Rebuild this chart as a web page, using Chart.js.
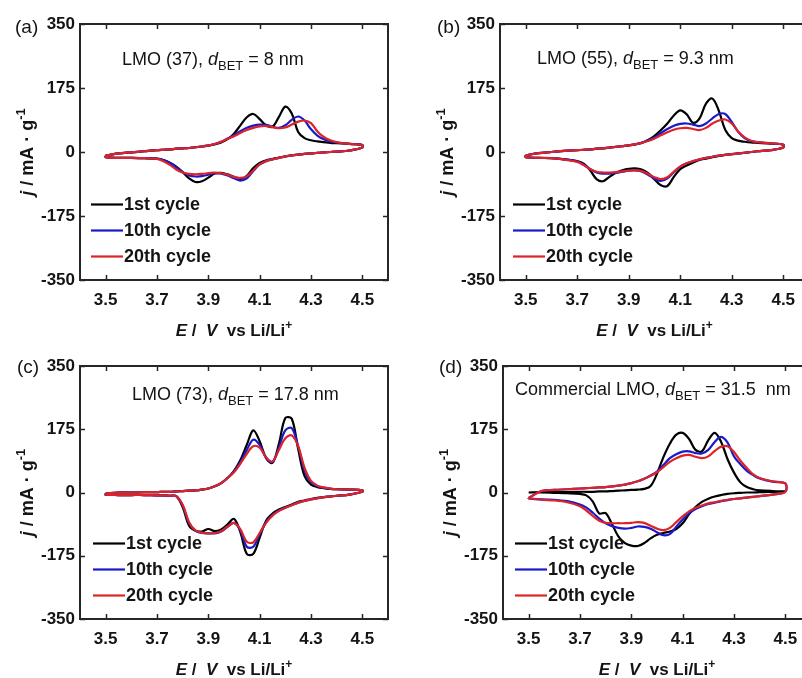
<!DOCTYPE html>
<html>
<head>
<meta charset="utf-8">
<script src="https://cdn.jsdelivr.net/npm/chart.js@4.4.1/dist/chart.umd.min.js"></script>
<style>
  html, body { margin: 0; padding: 0; background: #ffffff; width: 802px; height: 678px; overflow: hidden; }
  canvas { position: absolute; }
</style>
</head>
<body>
<canvas id="panelA" width="400" height="345" style="left:0;top:0"></canvas>
<canvas id="panelB" width="420" height="345" style="left:400px;top:0"></canvas>
<canvas id="panelC" width="400" height="348" style="left:0;top:330px"></canvas>
<canvas id="panelD" width="420" height="348" style="left:400px;top:330px"></canvas>
<script>
// Potential grid (V vs Li/Li+) shared by every sweep; anodic and cathodic currents are listed on it.
const POTENTIAL = [3.5, 3.55, 3.6, 3.65, 3.7, 3.725, 3.75, 3.775, 3.8, 3.825, 3.85, 3.875, 3.9, 3.925, 3.95, 3.975,
  4.0, 4.025, 4.05, 4.075, 4.1, 4.125, 4.15, 4.175, 4.2, 4.225, 4.25, 4.275, 4.3, 4.325, 4.35, 4.375, 4.4, 4.45, 4.5];

const POTENTIAL_TICKS = [3.5, 3.7, 3.9, 4.1, 4.3, 4.5];
const CURRENT_TICKS = [-350, -175, 0, 175, 350];
const CYCLE_LABELS = ['1st cycle', '10th cycle', '20th cycle'];

// (a) LMO (37): current density in mA/g, anodic sweep (UP) and cathodic sweep (DOWN)
const A1_UP    = [-10, -4, -1, 2, 5, 6, 7, 9, 10, 11, 13, 15, 17, 21, 26, 35, 50, 73, 95, 104, 90, 73, 69, 96, 124, 105, 55, 38, 32, 29, 27, 25, 24, 22, 19];
const A1_DOWN  = [-14, -16, -16, -17, -18, -22, -29, -40, -55, -72, -82, -80, -70, -59, -57, -61, -68, -74, -65, -44, -30, -23, -19, -15, -12, -9, -7, -5, -4, -2, -1, 0, 1, 4, 12];
const A10_UP   = [-10, -4, -1, 2, 5, 6, 7, 9, 10, 11, 13, 15, 18, 22, 28, 37, 46, 57, 66, 72, 75, 74, 69, 66, 73, 88, 97, 86, 62, 45, 35, 29, 26, 22, 19];
const A10_DOWN = [-14, -16, -16, -17, -18, -22, -30, -42, -55, -64, -67, -66, -62, -58, -59, -64, -72, -78, -72, -52, -34, -25, -20, -16, -12, -9, -7, -5, -4, -2, -1, 0, 1, 4, 12];
const A20_UP   = [-10, -4, -1, 2, 5, 6, 7, 9, 10, 11, 13, 15, 18, 22, 28, 36, 43, 52, 60, 66, 70, 71, 68, 65, 67, 75, 83, 86, 79, 56, 41, 32, 27, 22, 19];
const A20_DOWN = [-14, -16, -16, -17, -19, -25, -35, -48, -56, -60, -61, -60, -58, -56, -58, -62, -68, -71, -66, -50, -34, -25, -20, -16, -12, -9, -7, -5, -4, -2, -1, 0, 1, 4, 12];

// (b) LMO (55)
const B1_UP    = [-9, -3, 0, 3, 5, 6, 7, 9, 10, 12, 14, 16, 18, 21, 25, 33, 44, 60, 78, 100, 114, 103, 80, 92, 132, 146, 112, 60, 38, 31, 28, 26, 25, 23, 20];
const B1_DOWN  = [-14, -16, -17, -20, -25, -32, -50, -74, -80, -68, -57, -50, -46, -45, -48, -58, -75, -91, -93, -68, -47, -37, -29, -22, -18, -14, -11, -8, -6, -4, -2, 0, 2, 5, 12];
const B10_UP   = [-9, -3, 0, 3, 5, 6, 7, 9, 10, 12, 14, 16, 18, 21, 25, 32, 40, 52, 63, 72, 77, 78, 75, 71, 78, 92, 104, 104, 82, 55, 38, 30, 27, 24, 20];
const B10_DOWN = [-14, -16, -17, -20, -26, -34, -46, -56, -59, -59, -57, -54, -51, -50, -53, -62, -73, -79, -72, -55, -40, -31, -25, -20, -16, -13, -10, -8, -6, -4, -2, 0, 2, 5, 12];
const B20_UP   = [-9, -3, 0, 3, 5, 6, 7, 9, 10, 12, 14, 16, 18, 21, 25, 30, 37, 46, 54, 61, 65, 66, 63, 60, 66, 78, 86, 89, 78, 56, 40, 31, 27, 24, 20];
const B20_DOWN = [-14, -16, -17, -21, -27, -36, -47, -54, -56, -56, -55, -53, -51, -50, -52, -60, -69, -74, -69, -54, -40, -31, -25, -20, -16, -13, -10, -8, -6, -4, -2, 0, 2, 5, 12];

// (c) LMO (73)
const C1_UP    = [-3, 0, 0, 1, 1, 2, 2, 3, 4, 5, 6, 8, 11, 17, 26, 40, 60, 90, 132, 172, 142, 95, 82, 135, 206, 204, 120, 45, 22, 15, 12, 10, 9, 8, 6];
const C1_DOWN  = [-6, -7, -7, -7, -8, -8, -9, -10, -40, -92, -106, -108, -101, -107, -102, -88, -73, -110, -170, -170, -125, -78, -58, -47, -40, -33, -26, -22, -18, -15, -13, -11, -9, -6, 2];
const C10_UP   = [-3, 0, 0, 1, 1, 2, 2, 3, 4, 5, 6, 8, 11, 17, 26, 40, 58, 84, 118, 146, 132, 97, 84, 125, 172, 178, 128, 60, 28, 17, 13, 10, 9, 8, 6];
const C10_DOWN = [-6, -7, -7, -7, -8, -8, -9, -10, -36, -85, -106, -112, -113, -113, -108, -95, -84, -105, -150, -150, -115, -82, -62, -50, -42, -35, -28, -23, -19, -16, -13, -11, -9, -6, 2];
const C20_UP   = [-3, 0, 0, 1, 1, 2, 2, 3, 4, 5, 6, 8, 11, 17, 26, 40, 56, 80, 107, 128, 124, 97, 86, 118, 150, 158, 128, 68, 32, 19, 14, 11, 9, 8, 6];
const C20_DOWN = [-6, -7, -7, -7, -8, -8, -9, -10, -34, -82, -105, -111, -113, -112, -107, -94, -84, -102, -136, -138, -112, -84, -64, -51, -42, -35, -28, -23, -19, -16, -13, -11, -9, -6, 2];

// (d) Commercial LMO
const D1_UP    = [0, 1, 1, 1, 2, 2, 2, 3, 3, 4, 5, 6, 7, 8, 10, 18, 52, 98, 135, 160, 165, 148, 118, 114, 145, 165, 140, 92, 55, 28, 15, 9, 6, 4, 3];
const D1_DOWN  = [0, 0, -1, -2, -4, -8, -25, -58, -57, -88, -122, -140, -147, -148, -140, -127, -117, -112, -108, -101, -85, -60, -40, -26, -17, -11, -7, -4, -2, -1, 0, 0, 1, 2, 3];
const D10_UP   = [-15, 4, 7, 9, 11, 12, 13, 14, 15, 17, 19, 22, 26, 31, 38, 47, 58, 76, 95, 106, 113, 114, 109, 108, 118, 140, 154, 138, 100, 78, 60, 48, 39, 30, 25];
const D10_DOWN = [-16, -19, -20, -24, -33, -42, -56, -72, -85, -93, -98, -100, -98, -94, -95, -100, -110, -118, -115, -95, -75, -58, -46, -38, -32, -28, -24, -21, -18, -16, -14, -12, -10, -6, 2];
const D20_UP   = [-15, 4, 7, 9, 11, 12, 13, 14, 15, 17, 19, 22, 26, 31, 38, 46, 56, 70, 85, 95, 102, 104, 99, 95, 100, 115, 127, 128, 112, 88, 68, 50, 40, 31, 25];
const D20_DOWN = [-16, -20, -22, -27, -38, -50, -65, -78, -84, -85, -85, -85, -84, -82, -84, -92, -100, -104, -98, -82, -66, -52, -42, -36, -30, -27, -23, -20, -18, -16, -14, -12, -10, -6, 2];

const CYCLE_COLORS = ['#000000', '#1a1ac8', '#dc2328'];
const FONT = '"Liberation Sans", Arial, Helvetica, sans-serif';
const INK = '#141414';
const AXIS_INK = '#262626';

// One closed CV loop: forward sweep up the potential grid, then back down.
function cvLoop(up, down) {
  const pts = POTENTIAL.map((e, i) => ({ x: e, y: up[i] }));
  for (let i = POTENTIAL.length - 1; i >= 0; i--) pts.push({ x: POTENTIAL[i], y: down[i] });
  pts.push({ x: POTENTIAL[0], y: up[0] });
  return pts;
}

function segFont(seg, size) {
  const s = (seg.sub || seg.sup) ? Math.round(size * 0.72) : size;
  return (seg.it ? 'italic ' : '') + (seg.b ? 'bold ' : '') + s + 'px ' + FONT;
}
function richWidth(ctx, segs, size) {
  let w = 0;
  segs.forEach(g => { ctx.font = segFont(g, size); w += ctx.measureText(g.t).width; });
  return w;
}
function drawRich(ctx, segs, x, y, size, align) {
  let cx = align === 'center' ? x - richWidth(ctx, segs, size) / 2 : x;
  ctx.textAlign = 'left';
  ctx.textBaseline = 'alphabetic';
  segs.forEach(g => {
    ctx.font = segFont(g, size);
    const dy = g.sub ? size * 0.3 : (g.sup ? -size * 0.42 : 0);
    ctx.fillText(g.t, cx, y + dy);
    cx += ctx.measureText(g.t).width;
  });
}

const X_TITLE = [
  { t: 'E', it: 1, b: 1 }, { t: ' /  ', b: 1 }, { t: 'V', it: 1, b: 1 },
  { t: '  vs Li/Li', b: 1 }, { t: '+', b: 1, sup: 1 }
];
const Y_TITLE = [
  { t: 'j', it: 1, b: 1 }, { t: ' / mA \u00b7 g', b: 1 }, { t: '-1', b: 1, sup: 1 }
];
function sampleNote(prefix, suffix) {
  return [{ t: prefix }, { t: 'd', it: 1 }, { t: 'BET', sub: 1 }, { t: suffix }];
}

const PANELS = [
  { id: 'panelA', tag: '(a)', tagAt: [15, 33], note: sampleNote('LMO (37), ', ' = 8 nm'), noteAt: [122, 65],
    legendAt: [91, 204], yAxisWidth: 80, padding: { left: 0, right: 12, top: 24, bottom: 35 },
    cycles: [[A1_UP, A1_DOWN], [A10_UP, A10_DOWN], [A20_UP, A20_DOWN]] },
  { id: 'panelB', tag: '(b)', tagAt: [37, 33], note: sampleNote('LMO (55), ', ' = 9.3 nm'), noteAt: [137, 64],
    legendAt: [113, 204], yAxisWidth: 100, padding: { left: 0, right: 11, top: 24, bottom: 35 },
    cycles: [[B1_UP, B1_DOWN], [B10_UP, B10_DOWN], [B20_UP, B20_DOWN]] },
  { id: 'panelC', tag: '(c)', tagAt: [17, 43], note: sampleNote('LMO (73), ', ' = 17.8 nm'), noteAt: [132, 70],
    legendAt: [93, 213], yAxisWidth: 80, padding: { left: 0, right: 12, top: 36, bottom: 29 },
    cycles: [[C1_UP, C1_DOWN], [C10_UP, C10_DOWN], [C20_UP, C20_DOWN]] },
  { id: 'panelD', tag: '(d)', tagAt: [39, 43], note: sampleNote('Commercial LMO, ', ' = 31.5  nm'), noteAt: [115, 65],
    legendAt: [115, 213], yAxisWidth: 103, padding: { left: 0, right: 9, top: 36, bottom: 29 },
    cycles: [[D1_UP, D1_DOWN], [D10_UP, D10_DOWN], [D20_UP, D20_DOWN]] }
];

// Axes box with inward ticks on all four sides, drawn over the curves.
const boxAxes = {
  id: 'boxAxes',
  afterDatasetsDraw(chart) {
    const { ctx, chartArea: a, scales } = chart;
    ctx.save();
    ctx.strokeStyle = AXIS_INK;
    ctx.lineWidth = 1.5;
    ctx.beginPath();
    POTENTIAL_TICKS.forEach(v => {
      const px = Math.round(scales.x.getPixelForValue(v)) + 0.5;
      ctx.moveTo(px, a.bottom); ctx.lineTo(px, a.bottom - 5);
      ctx.moveTo(px, a.top); ctx.lineTo(px, a.top + 5);
    });
    CURRENT_TICKS.forEach(v => {
      const py = Math.round(scales.y.getPixelForValue(v)) + 0.5;
      ctx.moveTo(a.left, py); ctx.lineTo(a.left + 5, py);
      ctx.moveTo(a.right, py); ctx.lineTo(a.right - 5, py);
    });
    ctx.stroke();
    ctx.lineWidth = 2;
    ctx.strokeRect(a.left, a.top, a.right - a.left, a.bottom - a.top);
    ctx.restore();
  }
};

// Panel tag, sample note, cycle legend and axis titles.
const panelText = {
  id: 'panelText',
  afterDraw(chart, args, opts) {
    const { ctx, chartArea: a } = chart;
    const p = opts.panel;
    ctx.save();
    ctx.fillStyle = INK;
    ctx.font = '19px ' + FONT;
    ctx.textAlign = 'left';
    ctx.textBaseline = 'alphabetic';
    ctx.fillText(p.tag, p.tagAt[0], p.tagAt[1]);

    drawRich(ctx, p.note, p.noteAt[0], p.noteAt[1], 18, 'left');

    chart.data.datasets.forEach((ds, i) => {
      const y = p.legendAt[1] + i * 26;
      ctx.strokeStyle = ds.borderColor;
      ctx.lineWidth = 2.2;
      ctx.beginPath();
      ctx.moveTo(p.legendAt[0], y + 0.5);
      ctx.lineTo(p.legendAt[0] + 32, y + 0.5);
      ctx.stroke();
      ctx.fillStyle = INK;
      ctx.font = 'bold 18px ' + FONT;
      ctx.textBaseline = 'middle';
      ctx.fillText(ds.label, p.legendAt[0] + 33, y + 1);
    });

    ctx.fillStyle = INK;
    drawRich(ctx, X_TITLE, (a.left + a.right) / 2, a.bottom + 56, 17, 'center');
    ctx.translate(a.left - 47, (a.top + a.bottom) / 2);
    ctx.rotate(-Math.PI / 2);
    drawRich(ctx, Y_TITLE, 0, 0, 18, 'center');
    ctx.restore();
  }
};

PANELS.forEach(p => {
  const datasets = p.cycles.map((c, i) => ({
    label: CYCLE_LABELS[i],
    data: cvLoop(c[0], c[1]),
    borderColor: CYCLE_COLORS[i],
    borderWidth: 2.2,
    pointRadius: 0,
    tension: 0.35,
    fill: false,
    order: 2 - i
  }));
  new Chart(document.getElementById(p.id), {
    type: 'line',
    data: { datasets },
    options: {
      responsive: false,
      animation: false,
      devicePixelRatio: 1,
      events: [],
      layout: { padding: p.padding },
      plugins: { legend: { display: false }, tooltip: { enabled: false }, panelText: { panel: p } },
      scales: {
        x: {
          type: 'linear', min: 3.4, max: 4.6,
          afterBuildTicks: s => { s.ticks = POTENTIAL_TICKS.map(v => ({ value: v })); },
          afterFit: s => { s.height = 30; },
          grid: { display: false, drawTicks: false },
          border: { display: false },
          ticks: { color: INK, padding: 10, maxRotation: 0, font: { family: FONT, size: 17, weight: 'bold' },
                   callback: v => Number(v).toFixed(1) }
        },
        y: {
          type: 'linear', min: -350, max: 350,
          afterBuildTicks: s => { s.ticks = CURRENT_TICKS.map(v => ({ value: v })); },
          afterFit: s => { s.width = p.yAxisWidth; },
          grid: { display: false, drawTicks: false },
          border: { display: false },
          ticks: { color: INK, padding: 5, font: { family: FONT, size: 17, weight: 'bold' },
                   callback: v => String(v) }
        }
      }
    },
    plugins: [boxAxes, panelText]
  });
});
</script>
</body>
</html>
